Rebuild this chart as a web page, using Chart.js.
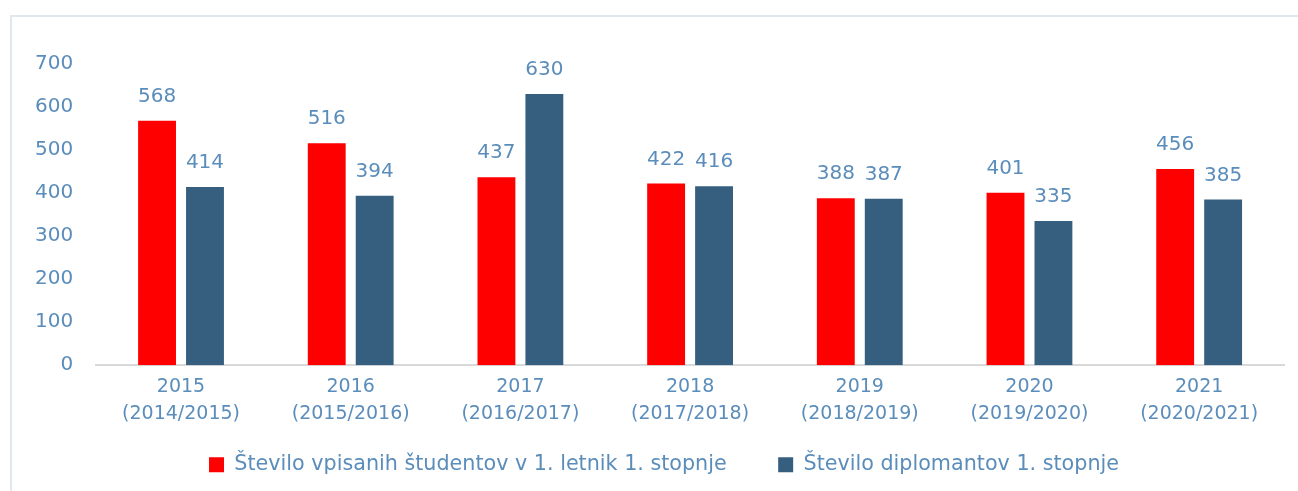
<!DOCTYPE html>
<html>
<head>
<meta charset="utf-8">
<script src="https://cdn.jsdelivr.net/npm/chart.js@4.4.0/dist/chart.umd.min.js"></script>
<style>
  body { margin: 0; background: #fff; overflow: hidden; }
  #frame { position: absolute; left: 10px; top: 15px; width: 1300px; height: 490px; border: 2px solid #dfe8f1; }
  #c { position: absolute; left: 0; top: 0; }
</style>
</head>
<body>
<div id="frame"></div>
<canvas id="c" width="1298" height="491"></canvas>
<script>
// values
const categories = [
  ['2015', '(2014/2015)'],
  ['2016', '(2015/2016)'],
  ['2017', '(2016/2017)'],
  ['2018', '(2017/2018)'],
  ['2019', '(2018/2019)'],
  ['2020', '(2019/2020)'],
  ['2021', '(2020/2021)'],
];
const vpisani = [568, 516, 437, 422, 388, 401, 456];
const diplomanti = [414, 394, 630, 416, 387, 335, 385];
const yTicks = [0, 100, 200, 300, 400, 500, 600, 700];

const textColor = '#5b8dbb';
const fontFamily = '"DejaVu Sans", sans-serif';

// draws the value above every bar
const valueLabels = {
  id: 'valueLabels',
  afterDatasetsDraw(chart) {
    const ctx = chart.ctx;
    ctx.save();
    ctx.font = '20px ' + fontFamily;
    ctx.fillStyle = textColor;
    ctx.textAlign = 'center';
    ctx.textBaseline = 'bottom';
    chart.data.datasets.forEach((ds, i) => {
      chart.getDatasetMeta(i).data.forEach((bar, j) => {
        ctx.fillText(ds.data[j], bar.x, bar.y - 14);
      });
    });
    ctx.restore();
  }
};

// legend sits a bit right of the canvas centre in the original
const shiftLegend = {
  id: 'shiftLegend',
  afterLayout(chart) {
    chart.legend.left += 16;
    chart.legend.right += 16;
  }
};

new Chart(document.getElementById('c'), {
  type: 'bar',
  data: {
    labels: categories,
    datasets: [
      {
        label: 'Število vpisanih študentov v 1. letnik 1. stopnje',
        data: vpisani,
        backgroundColor: '#ff0000',
        categoryPercentage: 0.565,
        barPercentage: 0.79,
      },
      {
        label: 'Število diplomantov 1. stopnje',
        data: diplomanti,
        backgroundColor: '#365e7f',
        categoryPercentage: 0.565,
        barPercentage: 0.79,
      },
    ],
  },
  options: {
    responsive: false,
    animation: false,
    layout: { padding: { top: 64, left: 12, right: 14, bottom: 6 } },
    plugins: {
      tooltip: { enabled: false },
      legend: {
        position: 'bottom',
        labels: {
          color: textColor,
          font: { family: fontFamily, size: 20.7 },
          boxWidth: 15,
          boxHeight: 15,
          padding: 12,
          // extra room between the two items
          generateLabels(chart) {
            const items = Chart.defaults.plugins.legend.labels.generateLabels(chart);
            items[0].text = items[0].text + '      ';
            return items;
          },
        },
      },
    },
    scales: {
      x: {
        grid: { display: false, drawTicks: false },
        border: { color: '#d9d9d9', width: 2 },
        ticks: {
          color: textColor,
          font: { family: fontFamily, size: 19, lineHeight: 1.45 },
          padding: 8,
          maxRotation: 0,
        },
        afterFit(axis) { axis.height += 6; },
      },
      y: {
        min: 0,
        max: 700,
        afterBuildTicks(axis) { axis.ticks = yTicks.map(v => ({ value: v })); },
        grid: { display: false, drawTicks: false },
        border: { display: false },
        ticks: {
          color: textColor,
          font: { family: fontFamily, size: 20 },
          padding: 23,
        },
      },
    },
  },
  plugins: [valueLabels, shiftLegend],
});
</script>
</body>
</html>
